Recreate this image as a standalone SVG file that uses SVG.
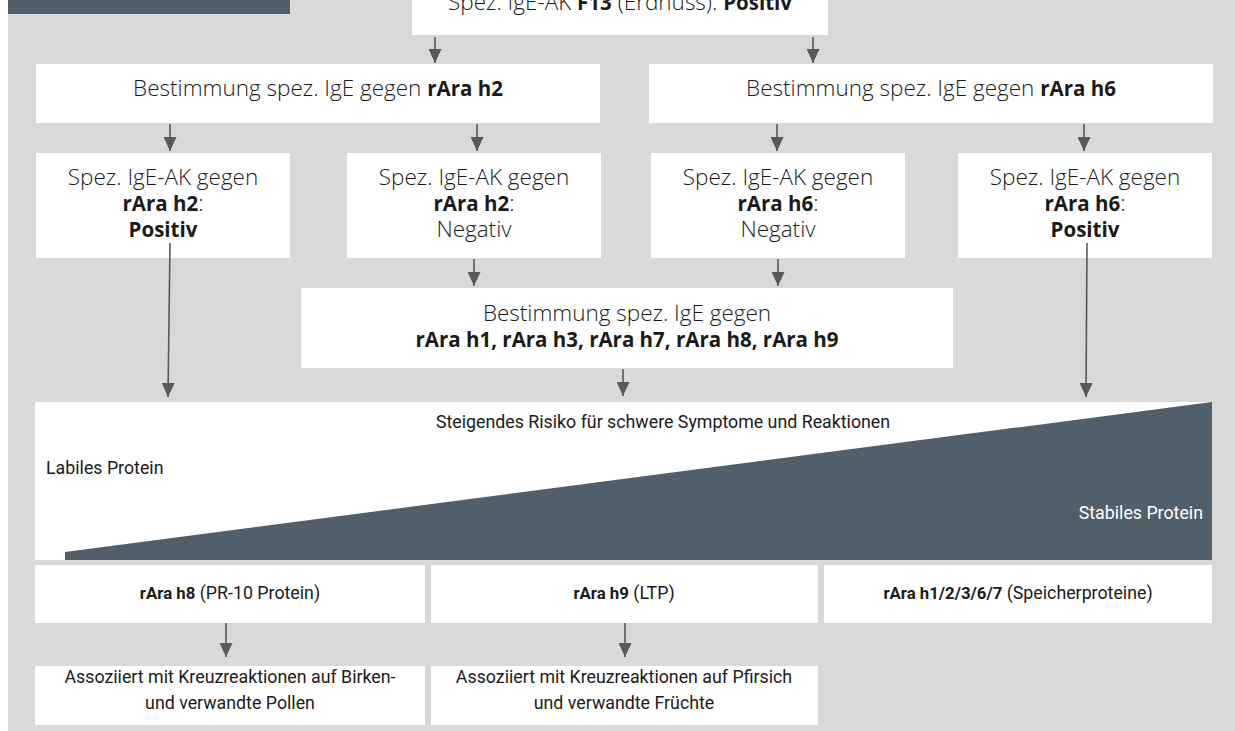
<svg xmlns="http://www.w3.org/2000/svg" width="1235" height="731" viewBox="0 0 1235 731">
<style>
.box{fill:#ffffff}
.t{font-family:"Open Sans","Noto Sans",sans-serif;font-size:22.5px;font-weight:300;fill:#1a1a1a;text-anchor:middle}
.t .b,.t.b{font-size:20.5px;font-weight:bold}
.s{font-family:Roboto,"Noto Sans",sans-serif;font-size:17.8px;fill:#1a1a1a;text-anchor:middle}
.s .b{font-weight:bold;font-size:16.8px}
.con line{stroke:#595959;stroke-width:1.6;marker-end:url(#ah)}
</style>
<defs>
<marker id="ah" markerUnits="userSpaceOnUse" markerWidth="14" markerHeight="13" refX="14" refY="6.5" orient="auto" viewBox="0 0 14 13">
<path d="M0,0 L14,6.5 L0,13 z" fill="#595959"/>
</marker>
</defs>
<rect x="0" y="0" width="1235" height="731" fill="#ffffff"/>
<rect x="8" y="0" width="1227" height="731" fill="#d9d9d9"/>
<rect x="8" y="0" width="282" height="14" fill="#4f5e69"/>

<g id="n-top">
<rect class="box" x="412" y="0" width="416" height="35"/>
<text class="t" x="620" y="10">Spez. IgE-AK <tspan class="b">F13</tspan> (Erdnuss): <tspan class="b">Positiv</tspan></text>
</g>
<g id="n-h2">
<rect class="box" x="36" y="64" width="564" height="59"/>
<text class="t" x="318" y="96">Bestimmung spez. IgE gegen <tspan class="b">rAra h2</tspan></text>
</g>
<g id="n-h6">
<rect class="box" x="649" y="64" width="564" height="59"/>
<text class="t" x="931" y="96">Bestimmung spez. IgE gegen <tspan class="b">rAra h6</tspan></text>
</g>
<g id="n-h2pos">
<rect class="box" x="36" y="153" width="254" height="105"/>
<text class="t" x="163" y="185">Spez. IgE-AK gegen</text>
<text class="t" x="163" y="211"><tspan class="b">rAra h2</tspan>:</text>
<text class="t b" x="163" y="237">Positiv</text>
</g>
<g id="n-h2neg">
<rect class="box" x="347" y="153" width="254" height="105"/>
<text class="t" x="474" y="185">Spez. IgE-AK gegen</text>
<text class="t" x="474" y="211"><tspan class="b">rAra h2</tspan>:</text>
<text class="t" x="474" y="237">Negativ</text>
</g>
<g id="n-h6neg">
<rect class="box" x="651" y="153" width="254" height="105"/>
<text class="t" x="778" y="185">Spez. IgE-AK gegen</text>
<text class="t" x="778" y="211"><tspan class="b">rAra h6</tspan>:</text>
<text class="t" x="778" y="237">Negativ</text>
</g>
<g id="n-h6pos">
<rect class="box" x="958" y="153" width="254" height="105"/>
<text class="t" x="1085" y="185">Spez. IgE-AK gegen</text>
<text class="t" x="1085" y="211"><tspan class="b">rAra h6</tspan>:</text>
<text class="t b" x="1085" y="237">Positiv</text>
</g>
<g id="n-multi">
<rect class="box" x="301" y="288" width="652" height="80"/>
<text class="t" x="627" y="321">Bestimmung spez. IgE gegen</text>
<text class="t b" x="627" y="347">rAra h1, rAra h3, rAra h7, rAra h8, rAra h9</text>
</g>
<g id="n-risk">
<rect class="box" x="35" y="402" width="1177" height="158"/>
<polygon points="65,552 1212,402 1212,560 65,560" fill="#505f6a"/>
<text class="s" x="663" y="428">Steigendes Risiko für schwere Symptome und Reaktionen</text>
<text class="s" x="46" y="474" style="text-anchor:start">Labiles Protein</text>
<text class="s" x="1203" y="519" style="text-anchor:end;fill:#ffffff">Stabiles Protein</text>
</g>
<g id="n-h8">
<rect class="box" x="35" y="565" width="390" height="58"/>
<text class="s" x="230" y="599"><tspan class="b">rAra h8</tspan> (PR-10 Protein)</text>
</g>
<g id="n-h9">
<rect class="box" x="431" y="565" width="387" height="58"/>
<text class="s" x="624" y="599"><tspan class="b">rAra h9</tspan> (LTP)</text>
</g>
<g id="n-storage">
<rect class="box" x="824" y="565" width="388" height="58"/>
<text class="s" x="1018" y="599"><tspan class="b">rAra h1/2/3/6/7</tspan> (Speicherproteine)</text>
</g>
<g id="n-birch">
<rect class="box" x="35" y="666" width="390" height="59"/>
<text class="s" x="230" y="683">Assoziiert mit Kreuzreaktionen auf Birken-</text>
<text class="s" x="230" y="709">und verwandte Pollen</text>
</g>
<g id="n-peach">
<rect class="box" x="431" y="666" width="387" height="59"/>
<text class="s" x="624" y="683">Assoziiert mit Kreuzreaktionen auf Pfirsich</text>
<text class="s" x="624" y="709">und verwandte Früchte</text>
</g>

<g id="connectors" class="con">
<line x1="435" y1="37" x2="435" y2="63"/>
<line x1="813" y1="37" x2="813" y2="63"/>
<line x1="170" y1="124" x2="170" y2="151"/>
<line x1="477" y1="124" x2="477" y2="151"/>
<line x1="777" y1="124" x2="777" y2="151"/>
<line x1="1084" y1="124" x2="1084" y2="151"/>
<line x1="474" y1="259" x2="474" y2="286"/>
<line x1="778" y1="259" x2="778" y2="286"/>
<line x1="170" y1="243" x2="168" y2="397"/>
<line x1="1087" y1="243" x2="1086" y2="397"/>
<line x1="623" y1="369" x2="623" y2="396"/>
<line x1="226" y1="623" x2="226" y2="657"/>
<line x1="625" y1="623" x2="625" y2="657"/>
</g>
</svg>
